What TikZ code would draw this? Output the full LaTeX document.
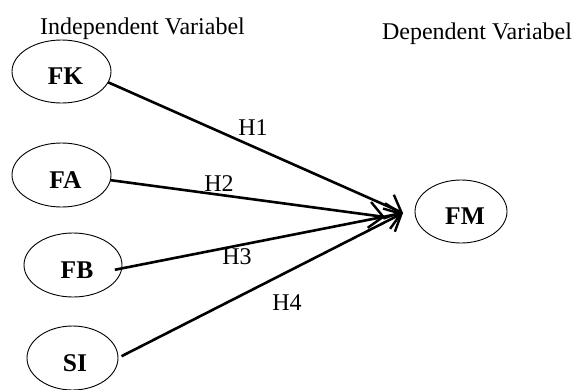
\documentclass[tikz,border=0pt]{standalone}
\usepackage{fontspec}
\setmainfont{Liberation Serif}
\usetikzlibrary{arrows.meta,shapes.geometric}
\begin{document}
\begin{tikzpicture}[x=1pt,y=-1pt,
  font=\fontsize{24}{28}\selectfont,
  var/.style={ellipse, draw, line width=0.9pt, inner sep=0pt, outer sep=0pt,
    minimum width=99pt, minimum height=63pt},
  varlabel/.style={xshift=4pt, yshift=-5pt, font=\fontsize{25.5}{30}\selectfont\bfseries},
  conn/.style={line width=2.6pt, -{Straight Barb[length=14pt,width=26pt,line width=2.4pt]}},
  hyp/.style={inner sep=0pt}
]
\useasboundingbox (0,0) rectangle (575,389);
\node[anchor=base] (indep) at (142.5,34) {Independent Variabel};
\node[anchor=base] (dep) at (477,39) {Dependent Variabel};

\node[var, label={[varlabel]center:FK}] (fk) at (61.5,71.5) {};
\node[var, minimum height=64pt, label={[varlabel]center:FA}] (fa) at (61.5,175) {};
\node[var, minimum width=98pt, minimum height=64pt, label={[varlabel]center:FB}] (fb) at (73,265) {};
\node[var, minimum width=91pt, minimum height=64pt, label={[varlabel,xshift=-1.5pt]center:SI}] (si) at (72.5,358) {};
\node[var, minimum width=92pt, label={[varlabel]center:FM}] (fm) at (461,211.5) {};

\coordinate (tip) at (403,213);
\coordinate (tipfa) at (385,217);

\draw[conn] (fk.-13) -- (tip);
\draw[conn] (fa.-6) -- (tipfa);
\draw[conn, shorten <=-7pt] (fb.-4) -- (tip);
\draw[conn, shorten <=4pt] (si.east) -- (tip);

\node[hyp] (h1) at (253,128) {H1};
\node[hyp] (h2) at (219,184) {H2};
\node[hyp] (h3) at (237,257) {H3};
\node[hyp] (h4) at (287,303) {H4};
\end{tikzpicture}
\end{document}
